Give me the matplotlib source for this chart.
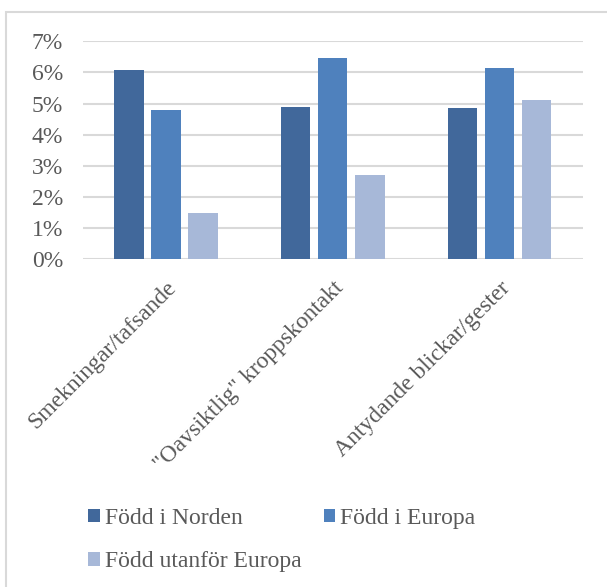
import matplotlib.pyplot as plt
from matplotlib.patches import Rectangle
from matplotlib.ticker import PercentFormatter
import numpy as np

categories = ["Smekningar/tafsande", '"Oavsiktlig" kroppskontakt', "Antydande blickar/gester"]
series_names = ["Född i Norden", "Född i Europa", "Född utanför Europa"]
norden = [0.0608, 0.0489, 0.0486]
europa = [0.0478, 0.0646, 0.0613]
utanfor = [0.0148, 0.0270, 0.0510]

colors = ["#41689B", "#4F81BD", "#A7B8D8"]
text_color = "#595959"
grid_color = "#D9D9D9"

plt.rcParams["font.family"] = ["Liberation Serif", "DejaVu Serif"]
plt.rcParams["font.size"] = 17

fig = plt.figure(figsize=(6.07, 5.87), dpi=100)
ax = fig.add_axes([0.136, 0.5583, 0.8245, 0.3713])

x = np.arange(len(categories))
width = 0.176
offset = 0.222
bars = []
for i, vals in enumerate([norden, europa, utanfor]):
    b = ax.bar(x + (i - 1) * offset, vals, width, color=colors[i], label=series_names[i], zorder=3)
    bars.append(b)

ax.set_xlim(-0.5, 2.5)
ax.set_ylim(0, 0.07)
ax.set_yticks(np.arange(0, 0.071, 0.01))
ax.yaxis.set_major_formatter(PercentFormatter(1.0, decimals=0))
ax.grid(axis="y", color=grid_color, linewidth=1.5, zorder=0)
for s in ["top", "right", "left", "bottom"]:
    ax.spines[s].set_visible(False)
ax.tick_params(axis="both", length=0, colors=text_color, labelsize=17)
ax.tick_params(axis="y", pad=14)
ax.set_xticks(x)
ax.set_xticklabels(categories, rotation=45, ha="right", rotation_mode="anchor")
ax.tick_params(axis="x", pad=13)

handles = [bars[0], bars[2], bars[1]]
labels = [series_names[0], series_names[2], series_names[1]]
fig.legend(handles, labels, loc="upper left", bbox_to_anchor=(0.145, 0.135),
           ncol=2, frameon=False, handlelength=0.5, handleheight=0.5,
           handletextpad=0.2, columnspacing=0.95, labelspacing=0.95,
           labelcolor=text_color, prop={"family": "Liberation Serif", "size": 17},
           borderaxespad=0, borderpad=0)

# outer chart border (only top and left visible in the crop)
fig.patches.append(Rectangle((6 / 607, -0.1), 1.2, 1 - 12 / 587 + 0.1,
                             transform=fig.transFigure, fill=False,
                             edgecolor=grid_color, linewidth=1.5))

fig.savefig("out.png", dpi=100)
